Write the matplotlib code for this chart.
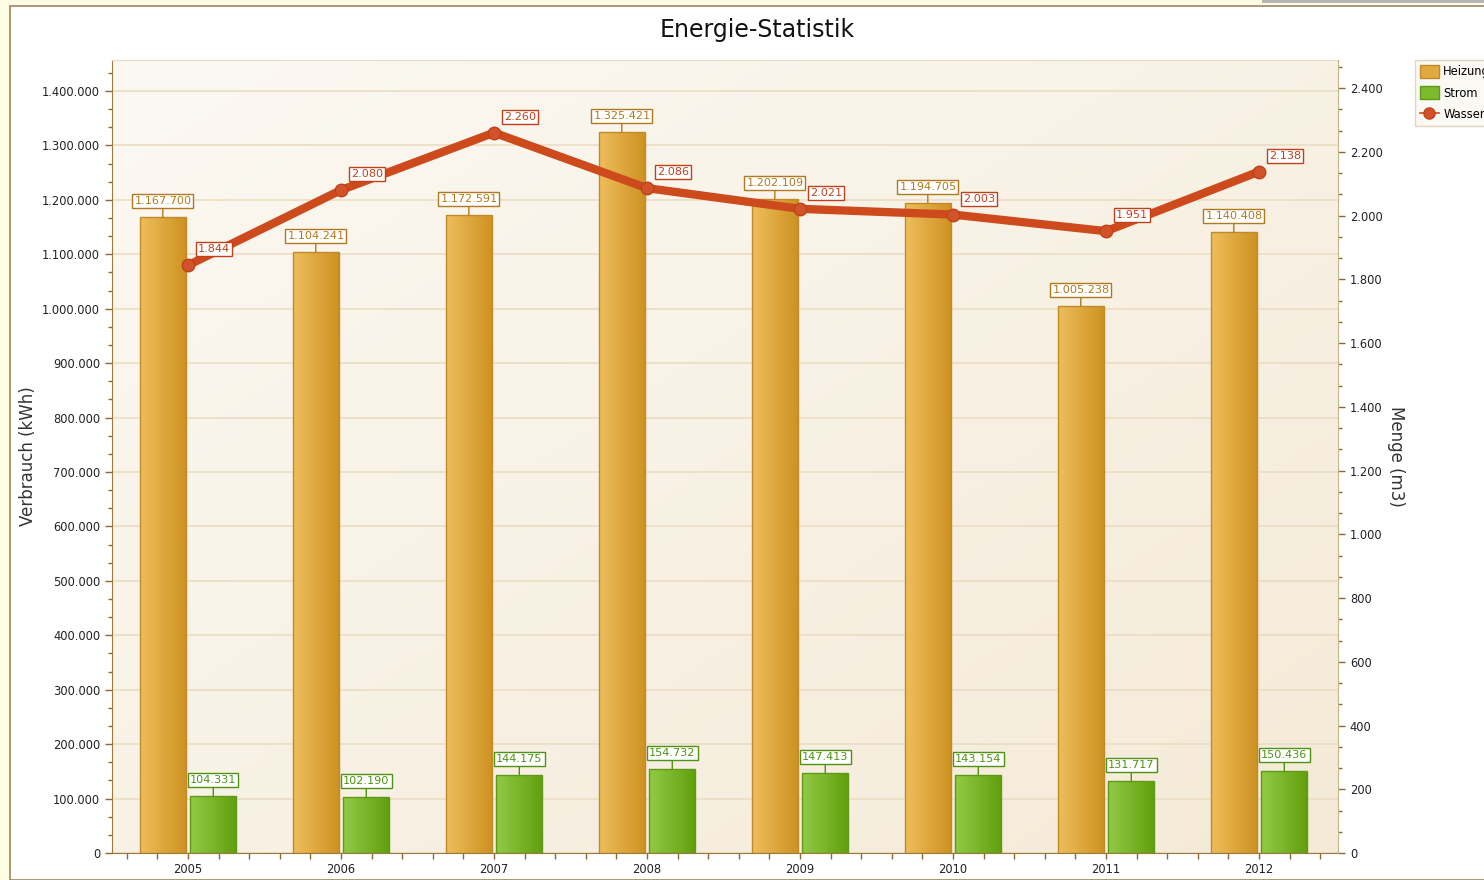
import matplotlib
matplotlib.use("Agg")
import matplotlib.pyplot as plt
import numpy as np
from matplotlib.patches import Rectangle, Patch
from matplotlib.lines import Line2D
from matplotlib.ticker import FuncFormatter, AutoMinorLocator, MultipleLocator

years = ["2005", "2006", "2007", "2008", "2009", "2010", "2011", "2012"]
heizung = [1167700, 1104241, 1172591, 1325421, 1202109, 1194705, 1005238, 1140408]
strom = [104331, 102190, 144175, 154732, 147413, 143154, 131717, 150436]
wasser = [1844, 2080, 2260, 2086, 2021, 2003, 1951, 2138]

def de(v):
    return f"{int(round(v)):,}".replace(",", ".")

plt.rcParams['font.family'] = ['DejaVu Sans']
W, H = 1484, 880
fig = plt.figure(figsize=(W/100, H/100), dpi=100)
fig.patch.set_facecolor('#FFFDE3')

# white panel with border
fig.add_artist(Rectangle((10/W, 0), 1, 1 - 6/H, transform=fig.transFigure,
                         facecolor='white', edgecolor='#A0845E', lw=1.2, zorder=0))
fig.add_artist(Rectangle((1262/W, 1 - 3/H), 1, 3/H, transform=fig.transFigure,
                         facecolor='#B4B4B4', edgecolor='none', zorder=1))

ax = fig.add_axes([112/W, 1 - 853/H, (1338-112)/W, (853-60)/H])
ax.set_facecolor('none')
x = np.arange(len(years))
bw = 0.30
off = 0.165

xlim = (-0.497, 7.516)
ylim = (0, 1457000)

# background gradient (light top-left -> darker bottom-right)
gx, gy = np.meshgrid(np.linspace(0, 1, 200), np.linspace(0, 1, 200))
t = np.clip(0.5 * gx + 0.5 * gy, 0, 1)
c0 = np.array([252, 249, 243]) / 255
c1 = np.array([244, 234, 215]) / 255
img = c0[None, None, :] * (1 - t[..., None]) + c1[None, None, :] * t[..., None]
ax.imshow(img, extent=[xlim[0], xlim[1], ylim[0], ylim[1]], aspect='auto',
          origin='upper', zorder=0)

ax.grid(axis='y', color='#EBDDC3', lw=1.2, zorder=0.5)
ax.set_axisbelow(True)

def grad_bars(xs, vals, left_c, right_c, edge):
    bars = ax.bar(xs, vals, width=bw, color='none', edgecolor=edge, lw=1.0, zorder=3)
    g = np.linspace(0, 1, 100)[None, :, None]
    lc = np.array(left_c)/255; rc = np.array(right_c)/255
    gimg = lc[None, None, :] * (1 - g) + rc[None, None, :] * g
    for b in bars:
        x0, y0 = b.get_x(), b.get_y()
        im = ax.imshow(gimg, extent=[x0, x0 + b.get_width(), y0, y0 + b.get_height()],
                       aspect='auto', zorder=2)
        im.set_clip_path(b)
    return bars

grad_bars(x - off, heizung, (238, 190, 92), (206, 146, 34), '#C08A2A')
grad_bars(x + off, strom, (146, 202, 70), (98, 160, 14), '#5E9A18')

def blabel(axx, xv, yv, txt, col, dy=11):
    axx.annotate(txt, (xv, yv), xytext=(0, dy), textcoords='offset pixels',
                 ha='center', va='bottom', fontsize=8.1, color=col, zorder=6,
                 bbox=dict(boxstyle='square,pad=0.18', fc='white', ec=col, lw=1),
                 arrowprops=dict(arrowstyle='-', color=col, lw=1, shrinkA=0, shrinkB=0))

for i in range(len(years)):
    blabel(ax, x[i] - off, heizung[i], de(heizung[i]), '#B07A1C')
    blabel(ax, x[i] + off, strom[i], de(strom[i]), '#4E9212')

ax.set_xlim(*xlim)
ax.set_ylim(*ylim)
ax.set_xticks(x)
ax.set_xticklabels(years, fontsize=8.3)
ax.xaxis.set_minor_locator(MultipleLocator(0.2))
ax.yaxis.set_major_locator(MultipleLocator(100000))
ax.yaxis.set_minor_locator(AutoMinorLocator(3))
ax.yaxis.set_major_formatter(FuncFormatter(lambda v, p: de(v)))
ax.tick_params(axis='both', labelsize=8.3, colors='#8A6A30', labelcolor='#222222',
               length=5, width=1)
ax.tick_params(which='minor', colors='#8A6A30', length=3, width=1)
ax.tick_params(axis='x', which='both', length=4)
for s in ['left', 'bottom']:
    ax.spines[s].set_color('#9C7A3C')
ax.spines['top'].set_color('#EADCC2')
ax.spines['right'].set_visible(False)
ax.set_ylabel('Verbrauch (kWh)', fontsize=12, color='#333333', labelpad=4)

ax2 = ax.twinx()
ax2.set_ylim(0, 2488)
ax2.plot(x, wasser, color='#CD4A1D', lw=6, marker='o', ms=9,
         mfc='#D2522A', mec='#BF4216', mew=1, solid_capstyle='round', zorder=4,
         label='Wasser')
for i in range(len(years)):
    ax2.annotate(de(wasser[i]), (x[i], wasser[i]), xytext=(26, 16), textcoords='offset pixels',
                 ha='center', va='center', fontsize=8.1, color='#C0401C', zorder=6,
                 bbox=dict(boxstyle='square,pad=0.18', fc='white', ec='#C0401C', lw=1))
ax2.yaxis.set_major_locator(MultipleLocator(200))
ax2.yaxis.set_minor_locator(AutoMinorLocator(3))
ax2.yaxis.set_major_formatter(FuncFormatter(lambda v, p: de(v)))
ax2.tick_params(axis='y', labelsize=8.3, colors='#8A6A30', labelcolor='#222222',
                length=5, width=1)
ax2.tick_params(which='minor', colors='#8A6A30', length=3, width=1)
ax2.spines['right'].set_color('#C8B48C')
for s in ['left', 'top', 'bottom']:
    ax2.spines[s].set_visible(False)
ax2.set_ylabel('Menge (m3)', fontsize=12, color='#333333', rotation=270, labelpad=16)

fig.text(757/W, 1 - 30/H, 'Energie-Statistik', ha='center', va='center', fontsize=17,
         color='#111111')

# legend
handles = [Patch(facecolor='#E2A93E', edgecolor='#C08A2A', label='Heizung'),
           Patch(facecolor='#7CBC2C', edgecolor='#5E9A18', label='Strom'),
           Line2D([0], [0], color='#CD4A1D', lw=1.2, marker='o', ms=8,
                  mfc='#D2522A', mec='#BF4216', label='Wasser')]
leg = fig.legend(handles=handles, loc='upper left', bbox_to_anchor=(1415/W, 1 - 60/H),
                 fontsize=8.3, frameon=True, fancybox=False, borderpad=0.45,
                 handlelength=1.6, handleheight=1.3, handletextpad=0.4, labelspacing=0.7,
                 borderaxespad=0)
leg.get_frame().set_edgecolor('#D8CCB4')
leg.get_frame().set_facecolor('#FBF8F2')

fig.savefig('out.png', dpi=100)
